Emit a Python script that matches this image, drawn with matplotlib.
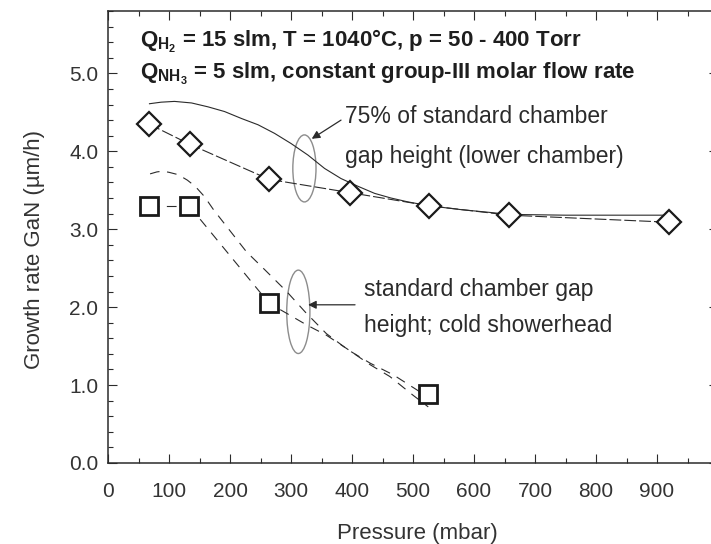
import matplotlib
matplotlib.use("Agg")
import matplotlib.pyplot as plt
from matplotlib.patches import Ellipse
from matplotlib.ticker import MultipleLocator, FormatStrFormatter

# measured points (pressure in mbar, growth rate in um/h)
diamond_p = [67, 134, 264, 396, 527, 658, 919]
diamond_rate = [4.35, 4.09, 3.64, 3.47, 3.30, 3.18, 3.09]

square_p = [68, 133, 264, 525]
square_rate = [3.30, 3.30, 2.05, 0.89]

fit_low_p = [68, 87, 109, 137, 164, 191, 219, 246, 273, 300, 328, 355, 382, 410, 437,
             464, 492, 527, 580, 620, 658, 750, 919]
fit_low_rate = [4.61, 4.63, 4.64, 4.62, 4.57, 4.51, 4.42, 4.34, 4.23, 4.10, 3.95, 3.78, 3.65, 3.55, 3.46,
                3.40, 3.35, 3.30, 3.25, 3.22, 3.19, 3.18, 3.18]

fit_std_a_p = [69, 80, 90, 100, 115, 130, 143, 158, 173, 185, 197, 227, 257, 293, 323, 358,
               394, 430, 468, 506, 525]
fit_std_a_rate = [3.71, 3.735, 3.745, 3.73, 3.70, 3.63, 3.55, 3.42, 3.25, 3.13, 3.01, 2.71, 2.48, 2.20, 1.94, 1.66,
                  1.45, 1.28, 1.13, 0.94, 0.84]

fit_std_b_p = [133, 264, 293, 326, 358, 391, 430, 462, 500, 525]
fit_std_b_rate = [3.30, 2.05, 1.92, 1.77, 1.64, 1.47, 1.26, 1.11, 0.87, 0.72]

header_lines = [
    r"Q$_{\mathbf{H_2}}$ = 15 slm, T = 1040°C, p = 50 - 400 Torr",
    r"Q$_{\mathbf{NH_3}}$ = 5 slm, constant group-III molar flow rate",
]
note_low = ["75% of standard chamber", "gap height (lower chamber)"]
note_std = ["standard chamber gap", "height; cold showerhead"]

plt.rcParams.update(
    {
        "font.family": ["Liberation Sans", "DejaVu Sans"],
        "mathtext.fontset": "custom",
        "mathtext.rm": "Liberation Sans",
        "mathtext.bf": "Liberation Sans:bold",
        "mathtext.it": "Liberation Sans:italic",
        "lines.scale_dashes": False,
    }
)

ink = "#2b2b2b"
grey = "#8c8c8c"

fig = plt.figure(figsize=(7.11, 5.44), dpi=100)
ax = fig.add_axes([108 / 711, 81 / 544, 610 / 711, 452 / 544])

ax.plot(fit_low_p, fit_low_rate, color=ink, lw=0.8)
ax.plot(fit_std_a_p, fit_std_a_rate, color=ink, lw=0.8, dashes=(7, 5.5))
ax.plot(fit_std_b_p, fit_std_b_rate, color=ink, lw=0.8, dashes=(7, 5.5))
ax.plot(diamond_p, diamond_rate, color=ink, lw=0.8, dashes=(8.5, 2.2),
        marker="D", ms=12, mfc="white", mec="#1a1a1a", mew=1.6)
ax.plot(square_p[:2], square_rate[:2], color=ink, lw=0.8, dashes=(7, 5.5))
ax.plot(square_p, square_rate, ls="none", marker="s", ms=13.5, mfc="white", mec="#1a1a1a", mew=2.0)

ax.add_patch(Ellipse((322, 3.78), 38, 0.86, fill=False, ec=grey, lw=1.0))
ax.add_patch(Ellipse((312, 1.94), 38, 1.07, fill=False, ec=grey, lw=1.0))

ax.annotate("", xy=(334, 4.16), xytext=(382, 4.40),
            arrowprops=dict(arrowstyle="-|>", color=ink, lw=0.9, mutation_scale=12, shrinkA=0, shrinkB=0))
ax.annotate("", xy=(328, 2.03), xytext=(405, 2.03),
            arrowprops=dict(arrowstyle="-|>", color=ink, lw=0.9, mutation_scale=12, shrinkA=0, shrinkB=0))

ax.text(389, 4.45, note_low[0], fontsize=16.5, color=ink, va="center")
ax.text(389, 3.93, note_low[1], fontsize=16.5, color=ink, va="center")
ax.text(419, 2.22, note_std[0], fontsize=16.5, color=ink, va="center")
ax.text(419, 1.76, note_std[1], fontsize=16.5, color=ink, va="center")

ax.text(52, 5.34, header_lines[0], fontsize=16, fontweight="bold", color="#1e1e1e", va="baseline")
ax.text(52, 4.93, header_lines[1], fontsize=16, fontweight="bold", color="#1e1e1e", va="baseline")

ax.set_xlim(0, 1000)
ax.set_ylim(0, 5.8)
ax.set_xticks(range(0, 1000, 100))
ax.xaxis.set_minor_locator(MultipleLocator(50))
ax.set_yticks([0, 1, 2, 3, 4, 5])
ax.yaxis.set_major_formatter(FormatStrFormatter("%.1f"))
ax.yaxis.set_minor_locator(MultipleLocator(0.2))
ax.tick_params(which="both", direction="in", top=True, right=True, color=ink, width=0.8)
ax.tick_params(which="major", length=6.5, labelsize=15, labelcolor="#333333")
ax.tick_params(which="minor", length=3.5)
ax.tick_params(axis="x", pad=14)
ax.tick_params(axis="y", pad=7)
for spine in ax.spines.values():
    spine.set_color(ink)
    spine.set_linewidth(1.1)

fig.text(417 / 711, 1 - 533 / 544, "Pressure (mbar)", fontsize=16, color="#333333", ha="center", va="center")
fig.text(35 / 711, 1 - 250 / 544, "Growth rate GaN (µm/h)", fontsize=16, color="#333333",
         rotation=90, ha="center", va="center")

fig.savefig("out.png", dpi=100)
